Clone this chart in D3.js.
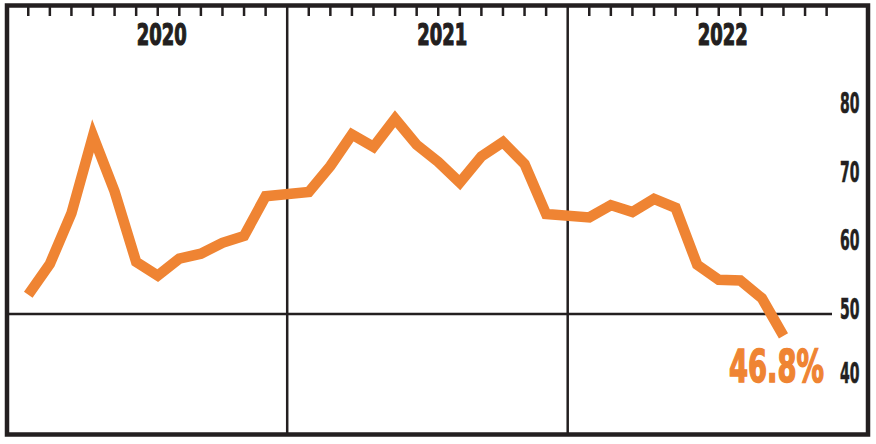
<!DOCTYPE html>
<html>
<head>
<meta charset="utf-8">
<script src="https://cdn.jsdelivr.net/npm/d3@7"></script>
<style>
  body { margin: 0; background: #fff; }
  text { font-family: "Liberation Sans Narrow", "DejaVu Sans Condensed", "Roboto Condensed", sans-serif; font-weight: bold; }
</style>
</head>
<body>
<div id="chart"></div>
<script>
var years = ["2020", "2021", "2022"];
var months = ["Jan", "Feb", "Mar", "Apr", "May", "Jun", "Jul", "Aug", "Sep", "Oct", "Nov", "Dec"];
var values2020 = [52.8, 57.3, 64.7, 76.0, 67.9, 57.6, 55.6, 58.1, 58.8, 60.4, 61.4, 67.2];
var values2021 = [67.8, 71.6, 76.2, 74.4, 78.5, 74.7, 72.2, 69.2, 73.0, 75.1, 71.9, 64.6];
var values2022 = [64.1, 65.9, 64.9, 66.8, 65.5, 57.2, 55.0, 54.9, 52.3, 46.8];
var yTicks = [80, 70, 60, 50, 40];
var refValue = 50;
var lastLabel = "46.8%";

var width = 876, height = 444,
    orange = "#ef8433", ink = "#231f20";

// each year gets 13 slots: its divider plus 12 months
var x = d3.scaleLinear().domain([0, 39]).range([6.7, 848.2]),
    y = d3.scaleLinear().domain([40, 80]).range([382.5, 108.5]);

var data = [];
[values2020, values2021, values2022].forEach(function (vals, yi) {
    vals.forEach(function (v, mi) {
        data.push({ slot: yi * 13 + mi + 1, value: v });
    });
});

var svg = d3.select("#chart")
    .append("svg")
        .attr("width", width)
        .attr("height", height);

// squeeze a text to a given width (condensed look), anchored at its x
function fit(sel, w) {
    sel.each(function () {
        var t = d3.select(this),
            len = this.getComputedTextLength(),
            tx = +t.attr("x"), ty = +t.attr("y");
        t.attr("x", 0).attr("y", 0)
         .attr("transform", `translate(${tx},${ty}) scale(${w / len},1)`);
    });
}

// month ticks under the top border
var ticks = [];
years.forEach(function (yr, yi) {
    months.forEach(function (m, mi) { ticks.push(yi * 13 + mi + 1); });
});
svg.selectAll(".tick")
    .data(ticks)
  .enter().append("line")
    .attr("x1", d => x(d)).attr("x2", d => x(d))
    .attr("y1", 6).attr("y2", 16)
    .attr("stroke", ink)
    .attr("stroke-width", 2.5);

// year dividers
svg.selectAll(".divider")
    .data([13, 26])
  .enter().append("line")
    .attr("x1", d => x(d)).attr("x2", d => x(d))
    .attr("y1", 5).attr("y2", 434)
    .attr("stroke", ink)
    .attr("stroke-width", 2.5);

svg.selectAll(".year")
    .data(years)
  .enter().append("text")
    .attr("x", (d, i) => x(i * 13) + 130)
    .attr("y", 45)
    .attr("font-size", 30)
    .attr("fill", ink)
    .attr("stroke", ink)
    .attr("stroke-width", 1.2)
    .text(d => d)
    .call(fit, 50);

// reference line at 50
svg.append("line")
    .attr("x1", 7).attr("x2", 832)
    .attr("y1", y(refValue)).attr("y2", y(refValue))
    .attr("stroke", ink)
    .attr("stroke-width", 2.5);

svg.selectAll(".ylabel")
    .data(yTicks)
  .enter().append("text")
    .attr("x", 840)
    .attr("y", d => y(d) + (d === 40 ? 0.5 : 4.5))
    .attr("font-size", 29)
    .attr("fill", ink)
    .attr("stroke", ink)
    .attr("stroke-width", 0.6)
    .text(d => d)
    .call(fit, 19.5);

var line = d3.line()
    .x(d => x(d.slot))
    .y(d => y(d.value));

svg.append("path")
    .datum(data)
    .attr("d", line)
    .attr("fill", "none")
    .attr("stroke", orange)
    .attr("stroke-width", 10.5)
    .attr("stroke-linejoin", "miter")
    .attr("stroke-miterlimit", 10)
    .attr("stroke-linecap", "butt");

svg.append("text")
    .attr("x", 729)
    .attr("y", 381.5)
    .attr("font-size", 44)
    .attr("fill", orange)
    .attr("stroke", orange)
    .attr("stroke-width", 1.5)
    .text(lastLabel)
    .call(fit, 95);

// outer frame
svg.append("rect")
    .attr("x", 7).attr("y", 5.5)
    .attr("width", 861).attr("height", 429)
    .attr("fill", "none")
    .attr("stroke", ink)
    .attr("stroke-width", 4.5);
</script>
</body>
</html>
